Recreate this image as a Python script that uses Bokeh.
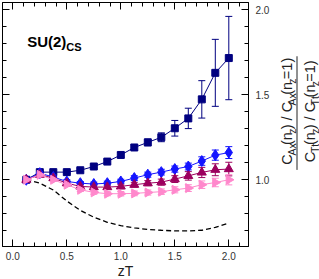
import math
from bokeh.plotting import figure
from bokeh.layouts import row
from bokeh.core.properties import value
from bokeh.models import (ColumnDataSource, Whisker, LinearAxis, Range1d, Label,
                          SingleIntervalTicker, PrintfTickFormatter, TeeHead,
                          CustomJSTickFormatter)
from bokeh.embed import file_html
from bokeh.resources import INLINE

# ---------------- data ----------------
zT = [0.125, 0.25, 0.375, 0.5, 0.625, 0.75, 0.875, 1.0,
      1.125, 1.25, 1.375, 1.5, 1.625, 1.75, 1.875, 2.0]

sq_val = [1.0, 1.045, 1.045, 1.045, 1.056, 1.078, 1.107, 1.146,
          1.19, 1.22, 1.25, 1.303, 1.361, 1.473, 1.629, 1.716]
sq_err = [0.0, 0.008, 0.008, 0.008, 0.009, 0.01, 0.012, 0.014,
          0.016, 0.02, 0.026, 0.046, 0.06, 0.11, 0.197, 0.245]

dia_val = [1.0, 1.039, 1.016, 0.99, 0.98, 0.975, 0.98, 0.99,
           1.01, 1.03, 1.045, 1.063, 1.078, 1.11, 1.145, 1.16]
dia_err = [0.0, 0.006, 0.008, 0.01, 0.01, 0.011, 0.012, 0.013,
           0.014, 0.015, 0.017, 0.018, 0.02, 0.025, 0.03, 0.035]

tri_val = [1.0, 1.03, 1.01, 0.98, 0.961, 0.957, 0.957, 0.961,
           0.971, 0.98, 0.986, 1.004, 1.023, 1.043, 1.059, 1.063]
tri_err = [0.0, 0.006, 0.008, 0.009, 0.01, 0.011, 0.012, 0.013,
           0.014, 0.015, 0.018, 0.02, 0.025, 0.03, 0.035, 0.04]

rtri_val = [1.0, 1.029, 1.0, 0.971, 0.941, 0.926, 0.918, 0.918,
            0.92, 0.925, 0.93, 0.941, 0.951, 0.971, 0.984, 1.0]
rtri_err = [0.0, 0.006, 0.008, 0.01, 0.01, 0.011, 0.012, 0.013,
            0.014, 0.015, 0.016, 0.018, 0.02, 0.022, 0.025, 0.03]

dash_val = [1.0, 0.98, 0.94, 0.875, 0.82, 0.78, 0.75, 0.73,
            0.717, 0.708, 0.703, 0.699, 0.699, 0.703, 0.72, 0.745]

X0, X1 = -0.0954, 2.1824
Y0, Y1 = 0.6075, 2.0428

FONT = "Liberation Sans"
FW, FH = 246, 244

p = figure(frame_width=FW, frame_height=FH, x_range=Range1d(X0, X1), y_range=Range1d(Y0, Y1),
           y_axis_location="right", output_backend="svg", toolbar_location=None,
           min_border_left=2, min_border_top=2, min_border_right=22, min_border_bottom=33,
           background_fill_color="white", border_fill_color="white")
p.outline_line_color = "black"
p.xgrid.visible = False
p.ygrid.visible = False

xt = SingleIntervalTicker(interval=0.5, num_minor_ticks=5)
yt = SingleIntervalTicker(interval=0.5, num_minor_ticks=5)
fmt = PrintfTickFormatter(format="%.1f")
blank = CustomJSTickFormatter(code="return '';")

def style_axis(ax, labels=True):
    ax.major_tick_in = 7
    ax.major_tick_out = 0
    ax.minor_tick_in = 4
    ax.minor_tick_out = 0
    ax.axis_line_color = "black"
    ax.major_tick_line_color = "black"
    ax.minor_tick_line_color = "black"
    ax.major_label_text_font = FONT
    ax.major_label_text_color = "#333333"
    ax.major_label_text_font_size = "10px" if labels else "1px"
    ax.major_label_standoff = 5 if labels else 0

p.xaxis.ticker = xt
p.xaxis.formatter = fmt
p.yaxis.ticker = yt
p.yaxis.formatter = fmt
style_axis(p.xaxis[0])
style_axis(p.yaxis[0])
p.yaxis[0].major_label_standoff = 7
p.xaxis.axis_label = "zT"
p.xaxis.axis_label_text_font = FONT
p.xaxis.axis_label_text_font_style = "normal"
p.xaxis.axis_label_text_font_size = "14px"
p.xaxis.axis_label_text_color = "#222222"
p.xaxis.axis_label_standoff = 0

axL = LinearAxis(ticker=yt, formatter=blank)
style_axis(axL, labels=False)
p.add_layout(axL, "left")
axT = LinearAxis(ticker=xt, formatter=blank)
style_axis(axT, labels=False)
p.add_layout(axT, "above")

# dashed curve
p.line(zT, dash_val, line_color="black", line_width=1.3, line_dash="5 3")

series = [
    (sq_val, sq_err, "#000080", "square", 7, 0.0),
    (dia_val, dia_err, "#1414ff", "diamond", 11, 0.0),
    (tri_val, tri_err, "#9c005e", "triangle", 9, 0.0),
    (rtri_val, rtri_err, "#ff88cc", "triangle", 9, -math.pi / 2),
]

for vals, errs, col, marker, size, ang in series:
    xs = [x for x, e in zip(zT, errs) if e > 0]
    up = [v + e for v, e in zip(vals, errs) if e > 0]
    lo = [v - e for v, e in zip(vals, errs) if e > 0]
    src = ColumnDataSource(dict(x=xs, upper=up, lower=lo))
    w = Whisker(base="x", upper="upper", lower="lower", source=src, dimension="height",
                line_color=col, line_width=1,
                upper_head=TeeHead(size=7, line_color=col, line_width=1),
                lower_head=TeeHead(size=7, line_color=col, line_width=1))
    p.add_layout(w)
    p.line(zT, vals, line_color=col, line_width=1)
    p.scatter(zT, vals, marker=marker, size=size, angle=ang, fill_color=col, line_color=col)

DX = (X1 - X0) / FW
p.add_layout(Label(x=0.133, y=1.8125, text="SU(2)", text_font=FONT, text_font_style="bold",
                   text_font_size="15px", text_color="black", text_baseline="alphabetic"))
p.add_layout(Label(x=0.133 + 2.611 * 15 * DX, y=1.781, text="CS", text_font=FONT,
                   text_font_style="bold", text_font_size="11px", text_color="black",
                   text_baseline="alphabetic"))

# ---------- side panel with the fraction y-axis title ----------
PX0, PW, PH = 270, 49, 279
q = figure(width=PW, height=PH, x_range=Range1d(PX0, PX0 + PW), y_range=Range1d(0, PH),
           x_axis_type=None, y_axis_type=None, output_backend="svg", toolbar_location=None,
           min_border=0, background_fill_color="white", border_fill_color="white")
q.outline_line_color = None
q.xgrid.visible = False
q.ygrid.visible = False

def py(page_y):
    return PH - page_y

W = {"C": 722, "A": 667, "x": 500, "T": 611, "t": 278, "(": 333, ")": 333, "n": 556,
     "z": 500, "/": 278, " ": 278, "=": 584, "1": 556}
FM, FS = 14.5, 10.5
SUB_SHIFT = 5

def frac_part(segs, base_px, center_py):
    widths = [sum(W[c] for c in t) * (FS if sub else FM) / 1000.0 for t, sub in segs]
    cur = center_py + sum(widths) / 2.0
    main = dict(x=[], y=[], t=[])
    subs = dict(x=[], y=[], t=[])
    for (t, sub), wdt in zip(segs, widths):
        d = subs if sub else main
        d["x"].append(base_px + (SUB_SHIFT if sub else 0))
        d["y"].append(py(cur))
        d["t"].append(t)
        cur -= wdt
    for d, fs in ((main, FM), (subs, FS)):
        q.text(x=d["x"], y=d["y"], text=d["t"], angle=math.pi / 2,
               text_font=value(FONT), text_font_size=value(f"{fs}px"), text_color="#222222",
               text_align="left", text_baseline="alphabetic")

num = [("C", False), ("Ax", True), ("(n", False), ("z", True), (") / C", False),
       ("Ax", True), ("(n", False), ("z", True), ("=1)", False)]
den = [("C", False), ("Tt", True), ("(n", False), ("z", True), (") / C", False),
       ("Tt", True), ("(n", False), ("z", True), ("=1)", False)]
frac_part(num, 284, 127)
frac_part(den, 307, 127)
q.segment(x0=[294.5], y0=[py(62)], x1=[294.5], y1=[py(193)], line_color="#222222", line_width=1)

layout = row(p, q, spacing=0)
open("out.html", "w").write(file_html(layout, INLINE))
